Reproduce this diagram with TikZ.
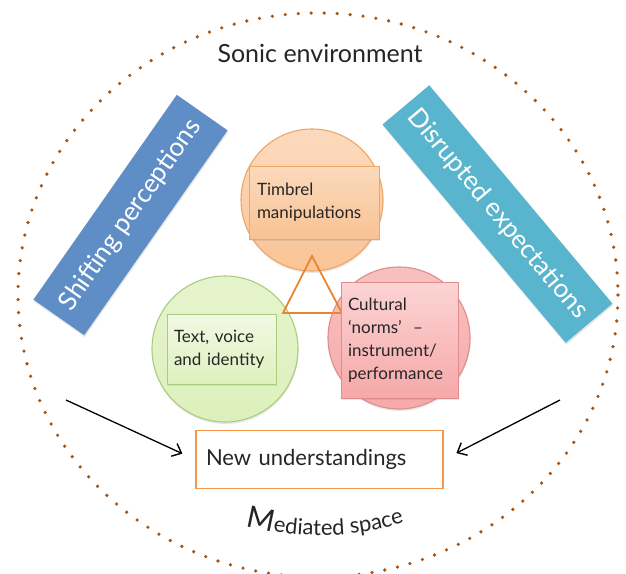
\documentclass[tikz,border=0pt]{standalone}
\usepackage{fontspec}
\setmainfont{Lato}
\usetikzlibrary{arrows.meta,shadows,decorations.text}
\definecolor{dotbrown}{RGB}{165,85,20}
\definecolor{bluebar}{RGB}{94,142,197}
\definecolor{tealbar}{RGB}{89,181,205}
\definecolor{orline}{RGB}{240,165,100}
\definecolor{ortri}{RGB}{232,134,48}
\definecolor{orbox}{RGB}{246,150,70}
\definecolor{grline}{RGB}{170,205,125}
\definecolor{rdline}{RGB}{222,140,140}
\definecolor{txt}{RGB}{38,38,38}
\begin{document}
\begin{tikzpicture}[x=1pt,y=-1pt,
  softshadow/.style={drop shadow={opacity=0.18,shadow xshift=0.5pt,shadow yshift=-2pt}},
  bar/.style={draw=none,rectangle,inner sep=0pt,text=white,
    font=\fontsize{26}{30}\selectfont,softshadow},
  topic/.style={circle,inner sep=0pt,minimum size=#1,line width=1.1pt,softshadow},
  label/.style={rectangle,line width=1pt,inner xsep=7pt,inner ysep=0pt,align=left,
    text=txt,font=\fontsize{17}{23}\selectfont,softshadow,
    execute at begin node={\hyphenpenalty=10000\relax}},
  headline/.style={text=txt,font=\fontsize{25}{30}\selectfont,inner sep=0pt},
  flow/.style={-{Straight Barb[length=8pt,width=14pt,line width=1.4pt]},line width=1.3pt,black}
]
\useasboundingbox (0,0) rectangle (626,573);
\fill[white] (0,0) rectangle (626,573);

% dotted environment boundary
\draw[dotbrown,line width=3.6pt,line cap=round,dash pattern=on 0pt off 13pt]
  (318,295) ellipse [x radius=300,y radius=282];

\node[headline,anchor=base] (sonic) at (320,62) {Sonic environment};

% bars
\node[bar,fill=bluebar,minimum width=250pt,minimum height=62pt,rotate=55]
  (shift) at (130.5,215) {Shifting perceptions};
\node[bar,fill=tealbar,minimum width=285pt,minimum height=61pt,rotate=-50]
  (disrupt) at (497.5,214) {Disrupted expectations};

% circles
\node[topic=142pt,draw=orline,top color={rgb,255:red,252;green,218;blue,190},bottom color={rgb,255:red,250;green,196;blue,150}] (cT) at (312,200) {};
\node[topic=146pt,draw=grline,top color={rgb,255:red,230;green,244;blue,205},bottom color={rgb,255:red,220;green,240;blue,188}] (cG) at (225,349) {};
\node[topic=142pt,draw=rdline,top color={rgb,255:red,249;green,192;blue,192},bottom color={rgb,255:red,246;green,170;blue,170}] (cR) at (399,338) {};

% triangle
\coordinate (tA) at (312,256);
\coordinate (tB) at (283,313);
\coordinate (tC) at (342,313);
\draw[ortri,line width=1.8pt,line join=miter] (tA) -- (tB) -- (tC) -- cycle;

% labels
\node[label,draw=orline,top color={rgb,255:red,251;green,218;blue,188},bottom color={rgb,255:red,248;green,194;blue,148},
  inner xsep=8pt,text width=114pt,minimum height=73pt] (lT) at (314,202.5) {Timbrel\\manipulations};
\node[label,draw=grline,top color={rgb,255:red,242;green,249;blue,228},bottom color={rgb,255:red,222;green,240;blue,190},
  text width=95pt,minimum height=70pt] (lG) at (221.5,349) {Text, voice\\and identity};
\node[label,draw=rdline,top color={rgb,255:red,252;green,212;blue,212},bottom color={rgb,255:red,246;green,168;blue,168},
  text width=103pt,minimum height=116pt] (lR) at (399.5,340) {Cultural\\‘norms’~~–\\instrument/\\performance};

% outcome
\node[rectangle,draw=orbox,line width=1.8pt,fill=white,inner xsep=10pt,inner ysep=0pt,
  text width=227pt,minimum height=58pt,align=left,text=txt,font=\fontsize{22}{26}\selectfont]
  (nu) at (319.5,459.5) {New understandings};

\coordinate (aL) at (66,400);
\coordinate (aR) at (560,400);
\draw[flow,shorten >=14pt] (aL) -- (nu.west);
\draw[flow,shorten >=14pt] (aR) -- (nu.east);

% mediated space
\path[decorate,decoration={text along path,text align=center,text color=txt,
  text={|\fontsize{30}{30}\selectfont|M|\fontsize{22}{22}\selectfont|ediated space}}]
  (236,523) .. controls (290,540) and (360,540) .. (414,519);
\end{tikzpicture}
\end{document}
